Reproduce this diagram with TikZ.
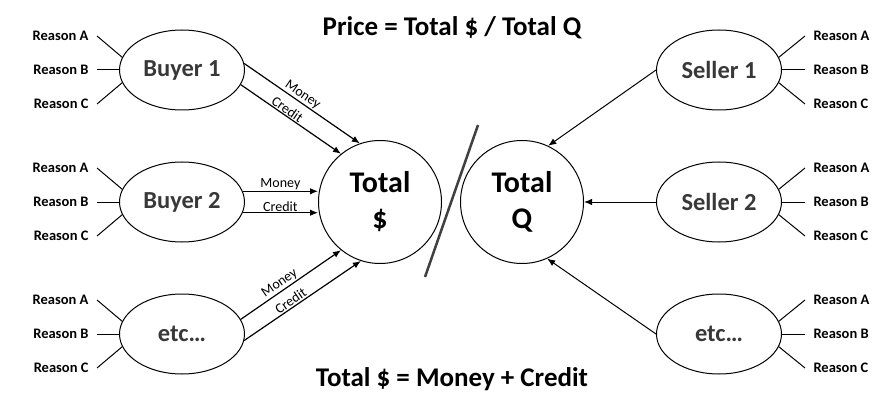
\documentclass[tikz,border=0pt]{standalone}
\usepackage{fontspec}
\setmainfont{Carlito}
\usetikzlibrary{shapes.geometric,arrows.meta,calc}

\begin{document}
\begin{tikzpicture}[
x=1pt,
y=-1pt,
line width=1pt,
agent/.style={
  draw,
  ellipse,
  minimum width=125pt,
  minimum height=80pt,
  inner sep=0pt,
  text=black!78,
  font=\fontsize{24.5}{28}\selectfont\bfseries
  },
total/.style={
  draw,
  circle,
  minimum size=123pt,
  inner sep=0pt,
  align=center,
  font=\fontsize{30}{36}\selectfont\bfseries
  },
reason/.style={
  inner xsep=8pt,
  inner ysep=1pt,
  font=\fontsize{14.5}{16}\selectfont\bfseries
  },
flow/.style={
  inner sep=1pt,
  font=\fontsize{14}{16}\selectfont
  },
heading/.style={
  font=\fontsize{27}{30}\selectfont\bfseries
  },
>={Latex[length=8pt,width=6.5pt]}
]
\useasboundingbox (0,0) rectangle (885,406);

\node[heading] (price) at (452,28) {Price = Total \$ / Total Q};
\node[heading] (sum) at (452,379) {Total \$ = Money + Credit};

\node[total] (tot) at (380,202) {Total\\\$};
\node[total] (totq) at (522,202) {Total\\Q};
\draw[line width=2.5pt, black!75] (478,125) -- (425,277);

\node[agent] (b1) at (182,70) {Buyer 1};
\node[agent] (b2) at (182,202) {Buyer 2};
\node[agent] (b3) at (182,334) {etc…};
\node[agent] (s1) at (719,70) {Seller 1};
\node[agent] (s2) at (719,202) {Seller 2};
\node[agent] (s3) at (719,334) {etc…};

% reasons on both sides
\foreach \n/\y in {1/70,2/202,3/334}
{
  \node[reason, anchor=east] (b\n-a) at (97,\y-34) {Reason A};
  \node[reason, anchor=east] (b\n-b) at (97,\y) {Reason B};
  \node[reason, anchor=east] (b\n-c) at (97,\y+34) {Reason C};
  \draw (b\n-a.east) -- (b\n.168);
  \draw (b\n-b.east) -- (b\n.west);
  \draw (b\n-c.east) -- (b\n.192);
  \node[reason, anchor=west] (s\n-a) at (805,\y-34) {Reason A};
  \node[reason, anchor=west] (s\n-b) at (805,\y) {Reason B};
  \node[reason, anchor=west] (s\n-c) at (805,\y+34) {Reason C};
  \draw (s\n.12) -- (s\n-a.west);
  \draw (s\n.east) -- (s\n-b.west);
  \draw (s\n.-12) -- (s\n-c.west);
}

% money and credit
\draw[->, line width=1.2pt] (b1.6) -- node[flow, sloped, above, pos=0.47] {Money} (tot.109);
\draw[->, line width=1.2pt] (b1.-14) -- node[flow, sloped, above, pos=0.43] {Credit} (tot.129);
\draw[->, line width=1.2pt] (b2.10) -- node[flow, above] {Money} (b2.10 -| tot.west);
\draw[->, line width=1.2pt] (b2.-10) -- node[flow, above] {Credit} (b2.-10 -| tot.west);
\draw[->, line width=1.2pt] (b3.14) -- node[flow, sloped, above, pos=0.43] {Money} (tot.231);
\draw[->, line width=1.2pt] (b3.-6) -- node[flow, sloped, above, pos=0.43] {Credit} (tot.252);

% quantity
\draw[->] (s1.west) -- (totq.65);
\draw[->] (s2.west) -- (totq.east);
\draw[->] (s3.west) -- (totq.-66);
\end{tikzpicture}
\end{document}
